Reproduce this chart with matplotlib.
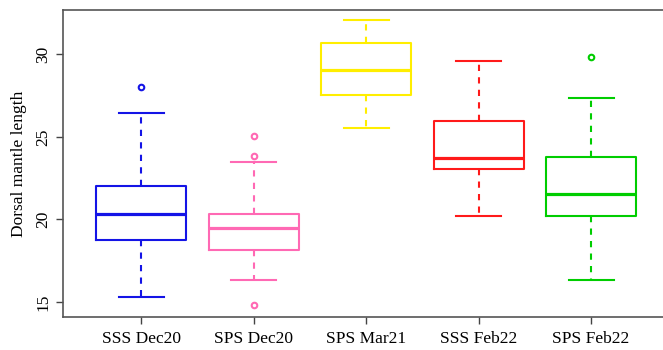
import matplotlib.pyplot as plt

groups = ["SSS Dec20", "SPS Dec20", "SPS Mar21", "SSS Feb22", "SPS Feb22"]
colors = ["#1414e6", "#ff69b4", "#ffee00", "#ff1a1a", "#00cd00"]

# five-number summaries
whislo = [15.31, 16.30, 25.55, 20.22, 16.30]
q1 = [18.77, 18.16, 27.51, 23.04, 20.22]
med = [20.30, 19.45, 29.03, 23.70, 21.52]
q3 = [22.05, 20.33, 30.71, 25.97, 23.79]
whishi = [26.46, 23.46, 32.06, 29.57, 27.37]
fliers = [[28.04], [25.06, 23.81, 14.82], [], [], [29.84]]

plt.rcParams['font.family'] = ['Liberation Serif', 'DejaVu Serif']

fig = plt.figure(figsize=(6.63, 3.5), dpi=100)
ax = fig.add_axes([0.0946, 0.0934, 0.9054, 0.878])

stats = []
for i in range(len(groups)):
    stats.append(dict(whislo=whislo[i], q1=q1[i], med=med[i], q3=q3[i],
                      whishi=whishi[i], fliers=fliers[i], label=groups[i]))

for i, s in enumerate(stats):
    c = colors[i]
    ax.bxp([s], positions=[i + 1], widths=0.8,
           boxprops=dict(color=c, linewidth=1.5),
           medianprops=dict(color=c, linewidth=2.3),
           whiskerprops=dict(color=c, linewidth=1.5, linestyle=(0, (3, 3))),
           capprops=dict(color=c, linewidth=1.5),
           capwidths=0.4,
           flierprops=dict(marker='o', markersize=4, markerfacecolor='none',
                           markeredgecolor=c, markeredgewidth=1.5))

ax.set_xlim(0.303, 5.64)
ax.set_ylim(14.07, 32.68)
ax.set_xticks(range(1, 6))
ax.set_xticklabels(groups, fontsize=12.5)
ax.set_yticks([15, 20, 25, 30])
ax.set_yticklabels(["15", "20", "25", "30"], rotation=90, va='center', fontsize=12.5)
ax.set_ylabel("Dorsal mantle length", fontsize=12.5, labelpad=6)
ax.tick_params(axis='both', length=5, color='#444444', width=1)
ax.tick_params(axis='x', pad=5)
ax.tick_params(axis='y', pad=3)
ax.spines['right'].set_visible(False)
for sp in ['left', 'top', 'bottom']:
    ax.spines[sp].set_color('#555555')
    ax.spines[sp].set_linewidth(1.2)

fig.savefig("out.png", dpi=100)
